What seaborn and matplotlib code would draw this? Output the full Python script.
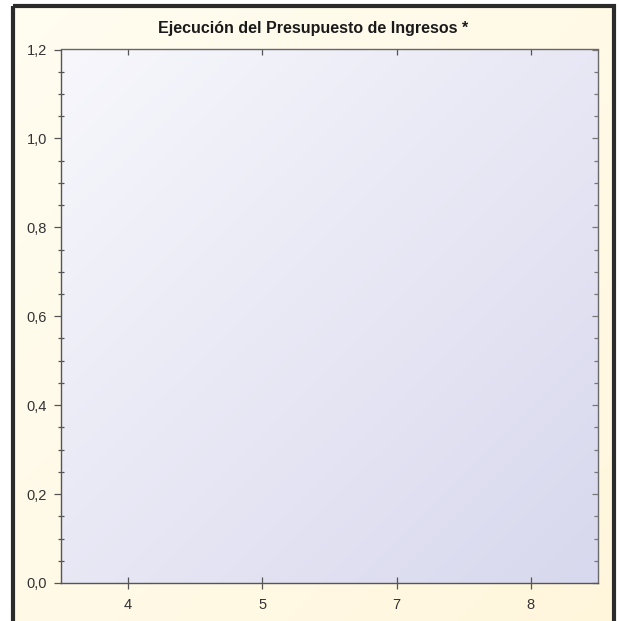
import numpy as np
import pandas as pd
import matplotlib
matplotlib.use("Agg")
import matplotlib.pyplot as plt
import seaborn as sns
from matplotlib.colors import LinearSegmentedColormap
from matplotlib.patches import Rectangle
from matplotlib.ticker import MultipleLocator, FuncFormatter, NullFormatter

# chart data (the reference chart has no visible marks)
categories = ["4", "5", "7", "8"]
values = [0.0, 0.0, 0.0, 0.0]
y_ticks = [0.0, 0.2, 0.4, 0.6, 0.8, 1.0, 1.2]
title = "Ejecución del Presupuesto de Ingresos *"

W, H = 619, 621
AXIS_GREY = "#555555"

sns.set_theme(style="white")
plt.rcParams["font.family"] = ["Liberation Sans", "DejaVu Sans"]

fig = plt.figure(figsize=(W / 100, H / 100), dpi=100)
fig.patch.set_facecolor("white")


def diag_gradient(c0, c1, n=256):
    """Diagonal gradient, c0 top-left to c1 bottom-right."""
    cmap = LinearSegmentedColormap.from_list("g", [c0, c1])
    xx, yy = np.meshgrid(np.linspace(0, 1, n), np.linspace(0, 1, n))
    return cmap, (xx + yy) / 2


# cream frame behind everything
bg = fig.add_axes([0, 0, 1, 1], zorder=-2)
bg.axis("off")
cmap_bg, grad_bg = diag_gradient("#fffdf1", "#fff6dc")
bg.imshow(grad_bg, cmap=cmap_bg, extent=(13, 614, 640, 6), aspect="auto",
          interpolation="bicubic")
bg.add_patch(Rectangle((12.5, 6), 601.5, 640, fill=False,
                       edgecolor="#2b2b2b", linewidth=3))
bg.set_xlim(0, W)
bg.set_ylim(H, 0)

# plot area
ax = fig.add_axes([60.7 / W, 1 - 583 / H, (598 - 60.7) / W, (583 - 49.5) / H])
df = pd.DataFrame({"cat": categories, "val": values})
sns.barplot(data=df, x="cat", y="val", ax=ax, color="#6a6ab0", linewidth=0)

cmap_ax, grad_ax = diag_gradient("#f7f7fc", "#d8d8ee")
ax.imshow(grad_ax, cmap=cmap_ax, extent=(0, 1, 0, 1), transform=ax.transAxes,
          aspect="auto", interpolation="bicubic", zorder=0)
ax.set_xlim(-0.5, len(categories) - 0.5)
ax.set_ylim(0, 1.2)
ax.set_xlabel("")
ax.set_ylabel("")

ax.set_yticks(y_ticks)
ax.yaxis.set_minor_locator(MultipleLocator(0.05))
ax.yaxis.set_major_formatter(FuncFormatter(lambda v, p: f"{v:.1f}".replace(".", ",")))

for side in ["left", "bottom"]:
    ax.spines[side].set_visible(True)
    ax.spines[side].set_color(AXIS_GREY)
    ax.spines[side].set_linewidth(1.0)
# top and right lines come from the secondary axes below
ax.spines["top"].set_visible(False)
ax.spines["right"].set_visible(False)

# left / bottom ticks
ax.tick_params(axis="y", which="major", left=True, right=False, direction="out",
               length=5, width=0.9, color=AXIS_GREY, labelsize=10.5,
               labelcolor="#333333", pad=5)
ax.tick_params(axis="y", which="minor", left=True, right=False, direction="inout",
               length=5, width=0.9, color=AXIS_GREY)
ax.tick_params(axis="x", which="major", bottom=True, top=False, direction="inout",
               length=9, width=0.9, color=AXIS_GREY, labelsize=10.5,
               labelcolor="#333333", pad=6)

# top ticks point inward
top = ax.secondary_xaxis("top")
top.set_xticks(range(len(categories)))
top.xaxis.set_major_formatter(NullFormatter())
top.tick_params(direction="in", length=4, width=0.9, color=AXIS_GREY)
top.spines["top"].set_color("#666666")
top.spines["top"].set_linewidth(1.0)

# right ticks point inward
right = ax.secondary_yaxis("right")
right.set_yticks(y_ticks)
right.yaxis.set_minor_locator(MultipleLocator(0.05))
right.yaxis.set_major_formatter(NullFormatter())
right.tick_params(which="major", direction="in", length=4.5, width=0.9, color="#777777")
right.tick_params(which="minor", direction="in", length=3, width=0.9, color="#777777")
right.spines["right"].set_color("#6a6a6a")
right.spines["right"].set_linewidth(1.0)

fig.text(0.506, 1 - 28 / H, title, ha="center", va="center",
         fontsize=11.5, fontweight="bold", color="#1a1a1a")

fig.savefig("out.png", dpi=100)
